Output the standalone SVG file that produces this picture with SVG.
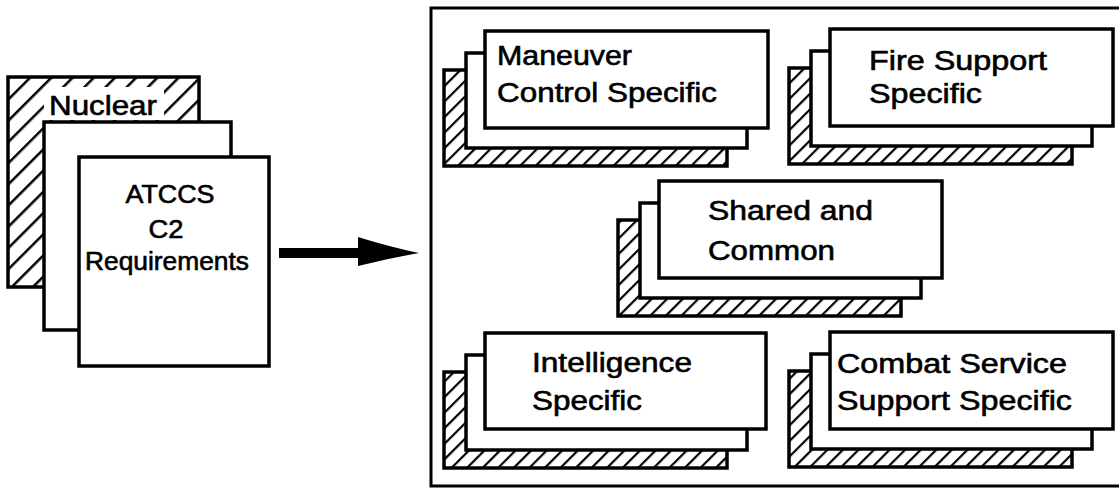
<svg xmlns="http://www.w3.org/2000/svg" width="1119" height="490" viewBox="0 0 1119 490">
<style>
.box{fill:#fff;stroke:#000;stroke-width:3.5;stroke-linejoin:miter}
.hs{fill:url(#hatch);stroke:#000;stroke-width:3.5}
.hb{fill:url(#hatchBig);stroke:#000;stroke-width:3.5}
.t{font-family:"Liberation Sans",Arial,Helvetica,sans-serif;font-size:27px;fill:#000;stroke:#000;stroke-width:0.6}
.tc{font-family:"Liberation Sans",Arial,Helvetica,sans-serif;font-size:25px;fill:#000;stroke:#000;stroke-width:0.6;text-anchor:middle}
</style>
<defs>
<pattern id="hatch" patternUnits="userSpaceOnUse" width="11" height="11" patternTransform="rotate(45)">
<rect width="11" height="11" fill="#fff"/>
<line x1="0" y1="0" x2="0" y2="11" stroke="#000" stroke-width="4.4"/>
</pattern>
<pattern id="hatchBig" patternUnits="userSpaceOnUse" width="15" height="15" patternTransform="rotate(45)">
<rect width="15" height="15" fill="#fff"/>
<line x1="0" y1="0" x2="0" y2="15" stroke="#000" stroke-width="5"/>
</pattern>
</defs>
<rect width="1119" height="490" fill="#fff"/>

<g id="requirements-stack">
<rect class="hb" x="8" y="77" width="191" height="210"/>
<rect x="44" y="87" width="120" height="33" fill="#fff"/>
<text class="t" x="49" y="115" font-size="29" textLength="108" lengthAdjust="spacingAndGlyphs">Nuclear</text>
<rect class="box" x="44" y="122" width="187" height="208"/>
<rect class="box" x="79" y="157" width="190" height="209"/>
<text class="tc" x="170" y="203" textLength="89" lengthAdjust="spacingAndGlyphs">ATCCS</text>
<text class="tc" x="166" y="238" textLength="35" lengthAdjust="spacingAndGlyphs">C2</text>
<text class="tc" x="167" y="270" textLength="164" lengthAdjust="spacingAndGlyphs">Requirements</text>
</g>

<g id="connectors">
<rect x="279" y="248" width="81" height="10" fill="#000"/>
<path d="M358,237 Q390,247 419,253 Q390,258 358,266 Z" fill="#000"/>
</g>

<g id="frame">
<path d="M1119,8 H431 V486 H1119" fill="none" stroke="#000" stroke-width="3"/>
</g>

<g id="maneuver">
<rect class="hs" x="444" y="70" width="283" height="96"/>
<rect class="box" x="466" y="53" width="281" height="95"/>
<rect class="box" x="485" y="31" width="283" height="97"/>
<text class="t" x="497" y="65" textLength="135" lengthAdjust="spacingAndGlyphs">Maneuver</text>
<text class="t" x="497" y="102" textLength="220" lengthAdjust="spacingAndGlyphs">Control Specific</text>
</g>

<g id="fire-support">
<rect class="hs" x="789" y="68" width="283" height="96"/>
<rect class="box" x="811" y="51" width="281" height="95"/>
<rect class="box" x="830" y="29" width="283" height="97"/>
<text class="t" x="869" y="70" textLength="178" lengthAdjust="spacingAndGlyphs">Fire Support</text>
<text class="t" x="869" y="103" textLength="113" lengthAdjust="spacingAndGlyphs">Specific</text>
</g>

<g id="shared-common">
<rect class="hs" x="618" y="220" width="283" height="96"/>
<rect class="box" x="640" y="203" width="281" height="95"/>
<rect class="box" x="659" y="181" width="283" height="97"/>
<text class="t" x="708" y="220" textLength="165" lengthAdjust="spacingAndGlyphs">Shared and</text>
<text class="t" x="708" y="260" textLength="127" lengthAdjust="spacingAndGlyphs">Common</text>
</g>

<g id="intelligence">
<rect class="hs" x="444" y="372" width="283" height="96"/>
<rect class="box" x="466" y="355" width="281" height="95"/>
<rect class="box" x="485" y="333" width="281" height="96"/>
<text class="t" x="532" y="372" textLength="160" lengthAdjust="spacingAndGlyphs">Intelligence</text>
<text class="t" x="532" y="410" textLength="110" lengthAdjust="spacingAndGlyphs">Specific</text>
</g>

<g id="combat-service-support">
<rect class="hs" x="789" y="371" width="283" height="96"/>
<rect class="box" x="811" y="354" width="281" height="95"/>
<rect class="box" x="830" y="332" width="283" height="97"/>
<text class="t" x="837" y="373" textLength="230" lengthAdjust="spacingAndGlyphs">Combat Service</text>
<text class="t" x="837" y="410" textLength="235" lengthAdjust="spacingAndGlyphs">Support Specific</text>
</g>
</svg>
